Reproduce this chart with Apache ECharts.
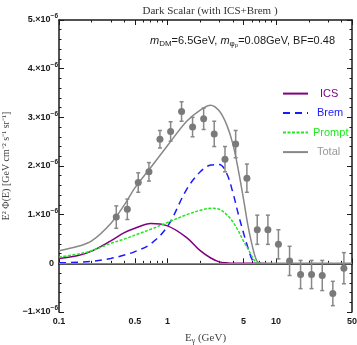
<!DOCTYPE html>
<html>
<head>
<meta charset="utf-8">
<script src="https://cdn.jsdelivr.net/npm/echarts@6/dist/echarts.min.js"></script>
<style>
html, body { margin: 0; padding: 0; background: #fff; }
#chart { width: 357px; height: 345px; }
</style>
</head>
<body>
<div id="chart"></div>
<script>
// flux in units of 1e-6 GeV cm^-2 s^-1 sr^-1
const curveE = [0.1, 0.15, 0.2, 0.3, 0.4, 0.5, 0.7, 1, 1.5, 2, 2.5, 3, 3.5, 4, 4.5, 5, 5.5, 6, 6.5, 7, 10, 20, 50];
const totalFlux = [0.26, 0.35, 0.46, 0.82, 1.2, 1.55, 1.97, 2.42, 2.92, 3.15, 3.25, 3.13, 2.85, 2.45, 1.9, 1.33, 0.78, 0.38, 0.1, 0.01, 0, 0, 0];
const icsFlux = [0.10, 0.16, 0.25, 0.46, 0.63, 0.72, 0.82, 0.77, 0.53, 0.26, 0.11, 0.03, 0.01, 0, 0, 0, 0, 0, 0, 0];
const bremFlux = [0.01, 0.02, 0.04, 0.10, 0.17, 0.24, 0.40, 0.76, 1.52, 1.88, 2.02, 2.03, 1.85, 1.45, 1.0, 0.63, 0.32, 0.08, 0, 0];
const promptFlux = [0.13, 0.19, 0.26, 0.41, 0.50, 0.58, 0.70, 0.84, 1.0, 1.09, 1.13, 1.11, 1.0, 0.85, 0.66, 0.46, 0.3, 0.14, 0.03, 0];

// measured points
const dataE = [0.337, 0.426, 0.537, 0.674, 0.851, 1.067, 1.346, 1.70, 2.15, 2.69, 3.38, 4.24, 5.38, 6.70, 8.40, 10.5, 13.3, 16.8, 21.2, 26.6, 33.3, 42.1];
const dataFlux = [0.95, 1.11, 1.66, 1.88, 2.55, 2.71, 3.12, 2.80, 2.97, 2.66, 2.14, 2.45, 1.75, 0.69, 0.69, 0.39, 0.05, -0.23, -0.23, -0.25, -0.62, -0.10];
const dataErr = [0.23, 0.21, 0.20, 0.19, 0.18, 0.20, 0.20, 0.20, 0.22, 0.26, 0.26, 0.28, 0.29, 0.30, 0.30, 0.30, 0.30, 0.29, 0.29, 0.31, 0.25, 0.32];

const xLabelTicks = [0.1, 0.5, 1, 5, 10, 50];
const xMinorTicks = [0.2, 0.3, 0.4, 0.6, 0.7, 0.8, 0.9, 2, 3, 4, 6, 7, 8, 9, 20, 30, 40];

const pairs = arr => arr.map((v, i) => [curveE[i], v]);

const chart = echarts.init(document.getElementById('chart'));

const sans = 'Liberation Sans';
const serif = 'Liberation Serif';
const frame = { show: true, lineStyle: { color: '#1a1a1a', width: 1.5 } };

function logAxis(pos, ticks, len, showLine) {
  return {
    type: 'log', logBase: 10, min: 0.1, max: 50, position: pos,
    axisLine: showLine ? frame : { show: false },
    axisTick: { show: true, inside: true, length: len, customValues: ticks, lineStyle: { color: '#1a1a1a', width: 1 } },
    axisLabel: { show: false },
    splitLine: { show: false }
  };
}

const xMain = logAxis('bottom', xLabelTicks, 5, true);
xMain.axisLabel = {
  show: true, customValues: xLabelTicks, margin: 5,
  fontFamily: sans, fontWeight: 'bold', fontSize: 9, color: '#1a1a1a',
  formatter: v => String(+v.toPrecision(3))
};
xMain.name = '{n|E}{s|γ}{n| (GeV)}';
xMain.nameLocation = 'middle';
xMain.nameGap = 19;
xMain.nameTextStyle = {
  rich: {
    n: { fontFamily: serif, fontSize: 11, color: '#444' },
    s: { fontFamily: serif, fontSize: 8, color: '#444', padding: [6, 0, 0, 0] }
  }
};

function yAxis(pos, labels) {
  return {
    type: 'value', min: -1, max: 5, interval: 1, position: pos,
    axisLine: frame,
    axisTick: { show: true, inside: true, length: 5, lineStyle: { color: '#1a1a1a' } },
    minorTick: { show: true, splitNumber: 5, length: 2.5, lineStyle: { color: '#1a1a1a' } },
    splitLine: { show: false },
    axisLabel: labels ? {
      show: true, margin: 1,
      formatter: v => v === 0 ? '{z|0}' : '{b|' + (v < 0 ? '−' : '') + Math.abs(v) + '.×10}{sup|−6}',
      rich: {
        z: { fontFamily: sans, fontWeight: 'bold', fontSize: 9, color: '#1a1a1a', padding: [0, 4, 0, 0] },
        b: { fontFamily: sans, fontWeight: 'bold', fontSize: 9, color: '#1a1a1a' },
        sup: { fontFamily: sans, fontWeight: 'bold', fontSize: 6.5, color: '#1a1a1a', padding: [0, 0, 7, 0] }
      }
    } : { show: false }
  };
}

const yMain = yAxis('left', true);
yMain.name = 'E² Φ(E) [GeV cm⁻² s⁻¹ sr⁻¹]';
yMain.nameLocation = 'middle';
yMain.nameGap = 40;
yMain.nameTextStyle = { fontFamily: serif, fontSize: 10, color: '#444' };

const lineSeries = (name, data, color, type, width) => ({
  name, type: 'line', data: pairs(data), smooth: 0.35,
  symbol: 'none', showSymbol: false,
  lineStyle: { color, width, type },
  itemStyle: { color },
  z: 3
});

// padLeft nudges each label so the texts sit centred like the reference
const legendItem = (name, color, padLeft) => ({
  name,
  itemStyle: { opacity: 0 },
  textStyle: { color, rich: { t: { padding: [0, 0, 0, padLeft] } } }
});

const option = {
  backgroundColor: '#ffffff',
  animation: false,
  grid: { left: 59, right: 5, top: 20, bottom: 33, outerBoundsMode: 'none', containLabel: false },
  title: {
    text: 'Dark Scalar (with ICS+Brem )',
    left: 205, textAlign: 'center', top: 1,
    textStyle: { fontFamily: serif, fontWeight: 'normal', fontSize: 11, color: '#333' }
  },
  graphic: [{
    type: 'text', right: 22, top: 35,
    style: {
      text: '{i|m}{s|DM}{n|=6.5GeV, }{i|m}{s|φ}{ss|ρ}{n|=0.08GeV, BF=0.48}',
      rich: {
        i: { fontFamily: sans, fontStyle: 'italic', fontSize: 11, fill: '#1a1a1a' },
        n: { fontFamily: sans, fontSize: 11, fill: '#1a1a1a' },
        s: { fontFamily: sans, fontSize: 8, fill: '#1a1a1a', padding: [6, 0, 0, 0] },
        ss: { fontFamily: sans, fontSize: 6, fill: '#1a1a1a', padding: [10, 0, 0, 0] }
      }
    }
  }],
  legend: {
    orient: 'vertical', left: 282, top: 88, padding: 0,
    itemWidth: 25, itemHeight: 14, itemGap: 8.3,
    itemStyle: { opacity: 0 },
    textStyle: { fontFamily: sans, fontSize: 11 },
    formatter: name => '{t|' + name + '}',
    data: [
      legendItem('ICS', '#800080', 7),
      legendItem('Brem', '#1a1aff', 4),
      legendItem('Prompt', '#22e822', 0),
      legendItem('Total', '#999999', 4)
    ]
  },
  xAxis: [
    xMain,
    logAxis('bottom', xMinorTicks, 2.5, false),
    logAxis('top', xLabelTicks, 5, true),
    logAxis('top', xMinorTicks, 2.5, false)
  ],
  yAxis: [yMain, yAxis('right', false)],
  series: [
    {
      type: 'line', data: [], silent: true,
      markLine: {
        silent: true, symbol: 'none', label: { show: false },
        lineStyle: { color: '#888', type: 'solid', width: 1 },
        data: [{ yAxis: 0 }]
      }
    },
    lineSeries('ICS', icsFlux, '#800080', 'solid', 1.5),
    lineSeries('Brem', bremFlux, '#1a1aff', [7, 5], 1.5),
    lineSeries('Prompt', promptFlux, '#22e822', [3, 1.5], 1.5),
    lineSeries('Total', totalFlux, '#888888', 'solid', 1.5),
    {
      type: 'custom',
      data: dataE.map((e, i) => [e, dataFlux[i], dataErr[i]]),
      encode: { x: 0, y: 1 },
      renderItem: (params, api) => {
        const x = api.value(0), y = api.value(1), e = api.value(2);
        const hi = api.coord([x, y + e]);
        const lo = api.coord([x, y - e]);
        const st = { stroke: '#888', lineWidth: 1.5 };
        return {
          type: 'group',
          children: [
            { type: 'line', shape: { x1: hi[0], y1: hi[1], x2: lo[0], y2: lo[1] }, style: st },
            { type: 'line', shape: { x1: hi[0] - 2, y1: hi[1], x2: hi[0] + 2, y2: hi[1] }, style: st },
            { type: 'line', shape: { x1: lo[0] - 2, y1: lo[1], x2: lo[0] + 2, y2: lo[1] }, style: st }
          ]
        };
      },
      z: 4
    },
    {
      type: 'scatter',
      data: dataE.map((e, i) => [e, dataFlux[i]]),
      symbol: 'circle', symbolSize: 7,
      itemStyle: { color: '#7a7a7a', opacity: 1 },
      z: 5
    }
  ]
};

chart.setOption(option);
</script>
</body>
</html>
